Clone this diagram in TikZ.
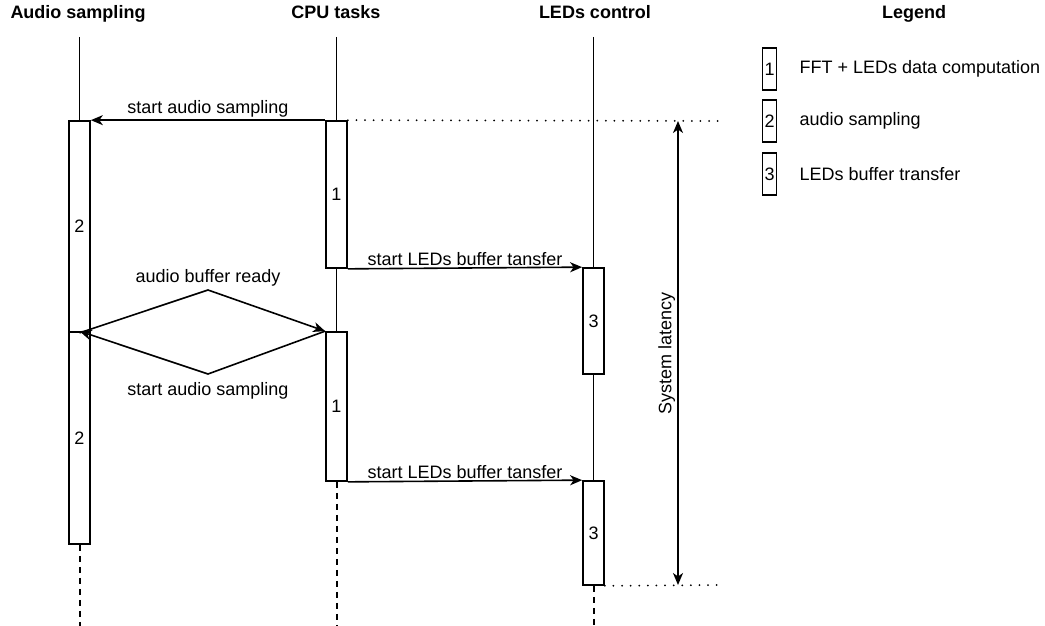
\documentclass[tikz,border=0pt]{standalone}
\usepackage{fontspec}
\setmainfont{Liberation Sans}
\usetikzlibrary{arrows.meta, positioning}
\tikzset{
  >={Stealth[length=12pt,width=10pt,inset=3.5pt]},
  every node/.style={font=\fontsize{18}{21}\selectfont},
  head/.style={font=\fontsize{18}{21}\selectfont\bfseries, anchor=base},
  act/.style={draw, fill=white, line width=1.7pt, minimum width=21pt, inner sep=0pt},
  keybox/.style={draw, line width=1.7pt, minimum width=14pt, minimum height=42pt, inner sep=0pt},
  life/.style={line width=1.6pt},
  lifeend/.style={line width=2pt, dash pattern=on 6pt off 5pt},
  msg/.style={line width=1.6pt, ->},
  guide/.style={line width=2pt, line cap=round, dash pattern=on 0pt off 8.6pt},
  lbl/.style={inner sep=2pt}
}

\begin{document}
\begin{tikzpicture}[x=1pt, y=-1pt]
  \useasboundingbox (0,0) rectangle (1045,626);
  % headers
  \node[head] (hdSmp) at (78,19) {Audio sampling};
  \node[head] (hdFft) at (336,19) {CPU tasks};
  \node[head] (hdLed) at (595,19) {LEDs control};
  \node[head] (hdKey) at (914,19) {Legend};
  % activation boxes
  \node[act, minimum height=211pt] (smp1) at (79.5,226.5) {2};
  \node[act, minimum height=212pt] (smp2) at (79.5,438) {2};
  \node[act, minimum height=147pt] (fft1) at (336.5,194.5) {1};
  \node[act, minimum height=149pt] (fft2) at (336.5,406.5) {1};
  \node[act, minimum height=106pt] (led1) at (593.5,321) {3};
  \node[act, minimum height=104pt] (led2) at (593.5,533) {3};
  % lifelines
  \coordinate (smpTop) at (79.5,37);
  \coordinate (fftTop) at (336.5,37);
  \coordinate (ledTop) at (593.5,37);
  \coordinate (smpEnd) at (79.5,626);
  \coordinate (fftEnd) at (336.5,626);
  \coordinate (ledEnd) at (593.5,626);
  \draw[life] (smpTop) -- (smp1.north);
  \draw[life] (fftTop) -- (fft1.north);
  \draw[life] (fft1.south) -- (fft2.north);
  \draw[life] (ledTop) -- (led1.north);
  \draw[life] (led1.south) -- (led2.north);
  \draw[lifeend] (smp2.south) -- (smpEnd);
  \draw[lifeend] (fft2.south) -- (fftEnd);
  \draw[lifeend] (led2.south) -- (ledEnd);
  % messages
  \draw[msg] (fft1.north west) -- node[lbl, above] (msgStart) {start audio sampling} (smp1.north east);
  \draw[msg] (fft1.south east) -- node[lbl, above] (msgLed1) {start LEDs buffer tansfer} (led1.north west);
  \draw[msg] (fft2.south east) -- node[lbl, above] (msgLed2) {start LEDs buffer tansfer} (led2.north west);
  \coordinate (rdyTop) at (208,290);
  \coordinate (rdyBot) at (208,374);
  \draw[msg] (smp1.south) -- (rdyTop) -- (fft2.north west);
  \draw[msg] (fft2.north west) -- (rdyBot) -- (smp2.north);
  \node[lbl, above=2pt of rdyTop] (rdyLbl) {audio buffer ready};
  \node[lbl, below=6pt of rdyBot] (restartLbl) {start audio sampling};
  % system latency
  \coordinate (guideTop) at (720,121);
  \coordinate (guideBot) at (720,585);
  \coordinate (latTop) at (678,121);
  \coordinate (latBot) at (678,585);
  \draw[guide] (fft1.north east) -- (guideTop);
  \draw[guide] (led2.south east) -- (guideBot);
  \draw[msg, <->] (latTop) -- node[lbl, rotate=90, above] (latLbl) {System latency} (latBot);
  % legend
  \foreach \i/\y/\txt in {1/69/{FFT + LEDs data computation}, 2/121/{audio sampling}, 3/174/{LEDs buffer transfer}} {
    \node[keybox] (key\i) at (769.5,\y) {\i};
    \node[inner sep=0pt, right=22pt of key\i] (key\i txt) {\txt};
  }
\end{tikzpicture}
\end{document}
